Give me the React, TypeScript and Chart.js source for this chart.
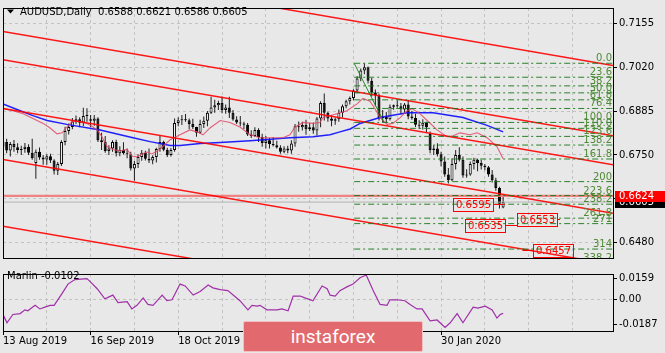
import React, { useEffect, useRef } from 'react';
import { Chart, registerables } from 'chart.js';

Chart.register(...registerables);

const FONT = '"DejaVu Sans", "Liberation Sans", sans-serif';
const BG = '#e8e8e8';
const GRID = '#c2c2c2';

const symbolName = 'AUDUSD';
const timeframe = 'Daily';

// Daily candles, bar index 0 = 13 Aug 2019
const opens = [
  0.6775, 0.6790, 0.6764, 0.6784, 0.6774, 0.6765, 0.6768, 0.6775, 0.6757, 0.6725,
  0.6760, 0.6742, 0.6736, 0.6746, 0.6733, 0.6701, 0.6722, 0.6790, 0.6824, 0.6836,
  0.6853, 0.6860, 0.6849, 0.6870, 0.6860, 0.6855, 0.6862, 0.6795, 0.6790, 0.6762,
  0.6770, 0.6790, 0.6755, 0.6766, 0.6755, 0.6752, 0.6708, 0.6722, 0.6744, 0.6757,
  0.6738, 0.6733, 0.6744, 0.6768, 0.6790, 0.6766, 0.6750, 0.6765, 0.6848, 0.6857,
  0.6860, 0.6857, 0.6845, 0.6836, 0.6818, 0.6845, 0.6855, 0.6880, 0.6896, 0.6903,
  0.6910, 0.6888, 0.6896, 0.6880, 0.6859, 0.6850, 0.6847, 0.6843, 0.6813, 0.6808,
  0.6827, 0.6805, 0.6787, 0.6795, 0.6784, 0.6780, 0.6773, 0.6760, 0.6770, 0.6764,
  0.6785, 0.6838, 0.6835, 0.6842, 0.6829, 0.6835, 0.6825, 0.6862, 0.6910, 0.6880,
  0.6862, 0.6855, 0.6860, 0.6880, 0.6900, 0.6915, 0.6925, 0.6948, 0.6985, 0.7010,
  0.7020, 0.6978, 0.6942, 0.6933, 0.6863, 0.6868, 0.6860, 0.6898, 0.6903, 0.6900,
  0.6890, 0.6905, 0.6868, 0.6864, 0.6843, 0.6840, 0.6849, 0.6815, 0.6765, 0.6770,
  0.6752, 0.6730, 0.6690, 0.6672, 0.6722, 0.6750, 0.6735, 0.6687, 0.6690, 0.6722,
  0.6735, 0.6725, 0.6717, 0.6712, 0.6690, 0.6672, 0.6648, 0.6588,
];
const highs = [
  0.6815, 0.6800, 0.6790, 0.6796, 0.6786, 0.6778, 0.6787, 0.6783, 0.6800, 0.6767,
  0.6773, 0.6750, 0.6752, 0.6754, 0.6737, 0.6728, 0.6795, 0.6837, 0.6847, 0.6864,
  0.6871, 0.6866, 0.6895, 0.6894, 0.6873, 0.6873, 0.6866, 0.6818, 0.6808, 0.6780,
  0.6795, 0.6797, 0.6777, 0.6789, 0.6770, 0.6760, 0.6731, 0.6752, 0.6765, 0.6763,
  0.6770, 0.6749, 0.6772, 0.6809, 0.6794, 0.6772, 0.6771, 0.6862, 0.6866, 0.6873,
  0.6876, 0.6862, 0.6861, 0.6837, 0.6858, 0.6868, 0.6885, 0.6929, 0.6920, 0.6917,
  0.6930, 0.6905, 0.6929, 0.6888, 0.6869, 0.6870, 0.6852, 0.6848, 0.6826, 0.6835,
  0.6832, 0.6815, 0.6808, 0.6802, 0.6805, 0.6794, 0.6780, 0.6777, 0.6778, 0.6795,
  0.6845, 0.6853, 0.6852, 0.6858, 0.6848, 0.6850, 0.6867, 0.6915, 0.6939, 0.6883,
  0.6873, 0.6865, 0.6890, 0.6905, 0.6920, 0.6930, 0.6952, 0.6992, 0.7016, 0.7032,
  0.7022, 0.6987, 0.6951, 0.6938, 0.6888, 0.6882, 0.6905, 0.6905, 0.6918, 0.6910,
  0.6910, 0.6920, 0.6885, 0.6877, 0.6857, 0.6860, 0.6852, 0.6822, 0.6780, 0.6786,
  0.6760, 0.6745, 0.6710, 0.6740, 0.6765, 0.6774, 0.6745, 0.6706, 0.6730, 0.6741,
  0.6738, 0.6735, 0.6722, 0.6716, 0.6704, 0.6680, 0.6652, 0.6621,
];
const lows = [
  0.6745, 0.6755, 0.6745, 0.6760, 0.6755, 0.6750, 0.6757, 0.6750, 0.6735, 0.6677,
  0.6735, 0.6720, 0.6720, 0.6725, 0.6690, 0.6688, 0.6716, 0.6780, 0.6813, 0.6829,
  0.6845, 0.6835, 0.6839, 0.6852, 0.6835, 0.6840, 0.6790, 0.6765, 0.6757, 0.6750,
  0.6760, 0.6745, 0.6746, 0.6751, 0.6740, 0.6702, 0.6671, 0.6710, 0.6732, 0.6733,
  0.6725, 0.6721, 0.6727, 0.6760, 0.6761, 0.6744, 0.6745, 0.6760, 0.6838, 0.6842,
  0.6852, 0.6829, 0.6830, 0.6806, 0.6815, 0.6833, 0.6838, 0.6876, 0.6880, 0.6888,
  0.6878, 0.6877, 0.6864, 0.6855, 0.6845, 0.6838, 0.6830, 0.6808, 0.6802, 0.6805,
  0.6790, 0.6775, 0.6770, 0.6770, 0.6776, 0.6770, 0.6754, 0.6755, 0.6755, 0.6754,
  0.6775, 0.6821, 0.6825, 0.6812, 0.6824, 0.6815, 0.6810, 0.6835, 0.6856, 0.6852,
  0.6838, 0.6843, 0.6852, 0.6865, 0.6894, 0.6905, 0.6918, 0.6940, 0.6977, 0.6998,
  0.6970, 0.6930, 0.6900, 0.6856, 0.6850, 0.6849, 0.6856, 0.6889, 0.6895, 0.6875,
  0.6880, 0.6860, 0.6858, 0.6836, 0.6830, 0.6828, 0.6820, 0.6755, 0.6750, 0.6745,
  0.6715, 0.6683, 0.6662, 0.6670, 0.6705, 0.6730, 0.6680, 0.6680, 0.6686, 0.6705,
  0.6700, 0.6705, 0.6703, 0.6683, 0.6665, 0.6640, 0.6585, 0.6586,
];
const closes = [
  0.6790, 0.6764, 0.6784, 0.6774, 0.6765, 0.6768, 0.6775, 0.6757, 0.6740, 0.6760,
  0.6742, 0.6736, 0.6746, 0.6733, 0.6701, 0.6722, 0.6790, 0.6824, 0.6836, 0.6853,
  0.6860, 0.6849, 0.6870, 0.6871, 0.6855, 0.6862, 0.6795, 0.6790, 0.6762, 0.6770,
  0.6790, 0.6755, 0.6766, 0.6755, 0.6752, 0.6708, 0.6722, 0.6744, 0.6757, 0.6738,
  0.6733, 0.6744, 0.6768, 0.6790, 0.6766, 0.6750, 0.6765, 0.6848, 0.6857, 0.6860,
  0.6857, 0.6845, 0.6836, 0.6818, 0.6845, 0.6855, 0.6880, 0.6896, 0.6903, 0.6910,
  0.6888, 0.6896, 0.6880, 0.6859, 0.6850, 0.6847, 0.6843, 0.6813, 0.6808, 0.6827,
  0.6805, 0.6787, 0.6795, 0.6784, 0.6780, 0.6773, 0.6760, 0.6770, 0.6764, 0.6785,
  0.6838, 0.6835, 0.6842, 0.6829, 0.6835, 0.6825, 0.6862, 0.6910, 0.6880, 0.6862,
  0.6855, 0.6860, 0.6880, 0.6900, 0.6915, 0.6925, 0.6948, 0.6985, 0.7010, 0.7020,
  0.6978, 0.6942, 0.6933, 0.6863, 0.6868, 0.6860, 0.6898, 0.6903, 0.6900, 0.6890,
  0.6905, 0.6868, 0.6864, 0.6843, 0.6840, 0.6849, 0.6835, 0.6765, 0.6770, 0.6752,
  0.6730, 0.6690, 0.6672, 0.6722, 0.6750, 0.6735, 0.6687, 0.6690, 0.6722, 0.6735,
  0.6725, 0.6717, 0.6712, 0.6690, 0.6672, 0.6648, 0.6600, 0.6605,
];

const xLabelIndex = [0, 24, 48, 72, 96, 120];
const xLabelText = ['13 Aug 2019', '16 Sep 2019', '18 Oct 2019', '21 Nov 2019', '26 Dec 2019', '30 Jan 2020'];
const xGridIndex = [0, 12, 24, 36, 48, 60, 72, 84, 96, 108, 120, 132, 144, 156];
const xMax = 167.1;

const priceTicks = [0.7155, 0.702, 0.6885, 0.675, 0.6615, 0.648];
const priceMin = 0.6433;
const priceMax = 0.7202;

// slow moving average (blue)
const blueIdx = [0, 4.7, 8.2, 12.1, 17.5, 26.6, 35.6, 40.3, 45.8, 48.5, 54.0, 59.5, 67.7, 78.6, 84.9, 89.6, 92.3, 95.1, 97.8, 103.3, 110.7, 117.8, 126.0, 132.6, 137.0];
const blueVal = [0.6907, 0.6886, 0.6871, 0.6856, 0.6844, 0.6827, 0.6803, 0.6791, 0.6779, 0.6779, 0.6785, 0.6788, 0.6794, 0.6803, 0.6806, 0.6812, 0.6821, 0.6830, 0.6847, 0.6865, 0.6880, 0.6880, 0.6865, 0.6841, 0.6821];

// fast moving average (pink)
const pinkIdx = [0, 2.7, 5.5, 8.2, 11.0, 12.9, 14.8, 16.2, 17.5, 18.9, 21.1, 23.0, 24.7, 26.0, 27.1, 28.5, 30.1, 32.1, 34.0, 35.3, 36.7, 38.1, 39.5, 40.8, 42.2, 43.8, 45.8, 48.5, 51.2, 53.2, 54.8, 56.7, 59.5, 62.2, 64.9, 67.7, 70.4, 73.2, 76.7, 78.6, 80.0, 82.2, 84.9, 86.8, 87.7, 91.5, 94.2, 97.0, 98.6, 100.5, 101.9, 103.3, 105.2, 106.8, 108.8, 110.7, 112.1, 114.2, 116.2, 118.9, 121.6, 123.3, 125.2, 127.9, 129.9, 132.6, 135.3, 137.0];
const pinkVal = [0.6892, 0.6886, 0.6877, 0.6862, 0.6847, 0.6833, 0.6815, 0.6818, 0.6836, 0.6853, 0.6853, 0.6847, 0.6836, 0.6824, 0.6806, 0.6776, 0.6767, 0.6762, 0.6767, 0.6747, 0.6744, 0.6753, 0.6759, 0.6753, 0.6762, 0.6776, 0.6797, 0.6812, 0.6827, 0.6821, 0.6812, 0.6833, 0.6856, 0.6850, 0.6836, 0.6812, 0.6803, 0.6803, 0.6803, 0.6812, 0.6836, 0.6850, 0.6847, 0.6850, 0.6865, 0.6877, 0.6886, 0.6907, 0.6924, 0.6915, 0.6892, 0.6865, 0.6844, 0.6847, 0.6865, 0.6886, 0.6892, 0.6877, 0.6856, 0.6827, 0.6806, 0.6809, 0.6818, 0.6812, 0.6818, 0.6803, 0.6776, 0.6738];

// parallel channel lines (price at the left and right edges of the panel)
const channelFromIdx = 0;
const channelToIdx = 167.1;
const channelFrom = [0.73479, 0.71299, 0.70426, 0.68932, 0.67364, 0.65308];
const channelTo = [0.70248, 0.68088, 0.67201, 0.65707, 0.64124, 0.62083];

// Fibonacci
const fibFromIdx = 96.2;
const fibLowIdx = 104.4;
const fibHigh = 0.7032;
const fibLow = 0.685;
const fibLevels = [0, 23.6, 38.2, 50, 61.8, 76.4, 100, 110, 123.6, 138.2, 161.8, 200, 223.6, 238.2, 261.8, 271, 314, 338.2];
const fibLabels = ['0.0', '23.6', '38.2', '50.0', '61.8', '76.4', '100.0', '110.0', '123.6', '138.2', '161.8', '200', '223.6', '238.2', '261.8', '271', '314', '338.2'];

const askPrice = 0.6624;
const bidPrice = 0.6605;

// boxed notes
const noteText = ['0.6595', '0.6553', '0.6535', '0.6457'];
const noteIdx = [123.3, 140.8, 126.6, 145.2];
const notePrice = [0.65988, 0.65544, 0.65352, 0.64568];
const noteLinkIdx = [137.4, 152.6, 140.8, 142.3];

// Marlin oscillator
const marlinIdx = [0, 1.1, 2.7, 4.7, 6.0, 6.8, 8.8, 10.1, 11.5, 12.9, 14.0, 16.2, 17.8, 19.7, 23.0, 23.8, 25.8, 27.9, 30.1, 31.5, 34.0, 35.3, 36.7, 38.4, 39.7, 41.1, 43.6, 44.9, 46.3, 48.5, 49.9, 52.1, 54.0, 56.2, 57.5, 59.5, 61.6, 64.9, 67.1, 68.2, 69.6, 70.4, 72.3, 75.1, 76.4, 78.1, 79.5, 81.4, 82.7, 84.9, 87.4, 88.8, 89.6, 91.0, 92.3, 94.2, 95.9, 97.8, 99.5, 101.4, 103.3, 105.2, 106.0, 107.9, 110.1, 111.5, 113.4, 114.8, 117.0, 118.9, 121.1, 122.5, 124.4, 126.0, 128.8, 130.1, 132.1, 134.0, 135.3, 136.2, 137.0];
const marlinVal = [-0.0111, -0.0173, -0.0111, -0.0104, -0.0076, -0.0083, -0.0042, -0.0069, -0.0055, -0.0042, -0.0042, 0.0048, 0.0118, 0.0152, 0.0159, 0.0138, 0.0083, 0.0007, 0.0035, -0.0021, -0.0014, -0.0069, -0.0042, 0.0014, -0.0035, -0.0042, 0.0035, -0.0007, 0.0000, 0.0118, 0.0104, 0.0035, 0.0062, 0.0111, 0.0090, 0.0076, 0.0069, -0.0007, -0.0076, -0.0042, -0.0048, -0.0042, -0.0076, -0.0076, -0.0069, -0.0083, 0.0028, 0.0028, 0.0014, -0.0007, 0.0104, 0.0083, 0.0035, 0.0028, 0.0069, 0.0097, 0.0118, 0.0166, 0.0187, 0.0069, -0.0035, -0.0042, 0.0000, 0.0000, -0.0007, -0.0035, -0.0069, -0.0069, -0.0159, -0.0152, -0.0208, -0.0173, -0.0104, -0.0173, -0.0055, -0.0062, -0.0048, -0.0076, -0.0138, -0.0111, -0.0102];
const marlinTicks = [0.0159, 0, -0.0187];
const marlinTickText = ['0.0159', '0.00', '-0.0187'];
const marlinMin = -0.0235;
const marlinMax = 0.0194;

const fibPrice = (lv: number) => fibHigh - (lv / 100) * (fibHigh - fibLow);

const lineDs = (data: any[], color: string, width: number, order: number, dash: number[] = []) => ({
  type: 'line',
  data,
  borderColor: color,
  backgroundColor: color,
  borderWidth: width,
  borderDash: dash,
  pointRadius: 0,
  pointHoverRadius: 0,
  fill: false,
  tension: 0,
  order,
  clip: 0,
});

const bgPlugin = {
  id: 'bg',
  beforeDraw(chart: any) {
    const c = chart.ctx;
    c.save();
    c.fillStyle = BG;
    c.fillRect(0, 0, chart.width, chart.height);
    c.restore();
  },
};

const framePlugin = {
  id: 'frame',
  afterDraw(chart: any) {
    const { left, top, right, bottom } = chart.chartArea;
    const c = chart.ctx;
    c.save();
    c.strokeStyle = '#000';
    c.lineWidth = 1;
    c.strokeRect(left + 0.5, top + 0.5, right - left, bottom - top);
    c.restore();
  },
};

const mainDecor = {
  id: 'mainDecor',
  afterDatasetsDraw(chart: any) {
    const c = chart.ctx;
    const xs = chart.scales.x;
    const ys = chart.scales.y;
    const { left, top, right, bottom } = chart.chartArea;
    c.save();
    c.beginPath();
    c.rect(left, top, right - left, bottom - top);
    c.clip();
    c.font = '10px ' + FONT;
    c.fillStyle = '#4e8a34';
    c.textAlign = 'right';
    c.textBaseline = 'alphabetic';
    fibLevels.forEach((lv, k) => {
      const y = ys.getPixelForValue(fibPrice(lv));
      c.fillText(fibLabels[k], right - 1, y - 2);
    });
    c.textAlign = 'left';
    c.textBaseline = 'middle';
    noteText.forEach((t, k) => {
      const x = Math.round(xs.getPixelForValue(noteIdx[k]));
      const yc = Math.round(ys.getPixelForValue(notePrice[k]));
      const w = Math.round(c.measureText(t).width) + 5;
      const h = 13;
      c.strokeStyle = '#ff0000';
      c.lineWidth = 1;
      c.strokeRect(x + 0.5, yc - 6 + 0.5, w, h);
      c.fillStyle = '#ff0000';
      c.fillText(t, x + 3, yc + 1);
      const lx = xs.getPixelForValue(noteLinkIdx[k]);
      c.beginPath();
      if (lx > x + w) {
        c.moveTo(x + w + 0.5, yc + 0.5);
        c.lineTo(lx, yc + 0.5);
      } else {
        c.moveTo(lx, yc + 0.5);
        c.lineTo(x + 0.5, yc + 0.5);
      }
      c.stroke();
    });
    c.restore();
  },
  afterDraw(chart: any) {
    const c = chart.ctx;
    const ys = chart.scales.y;
    const { right } = chart.chartArea;
    c.save();
    c.font = '10px ' + FONT;
    c.fillStyle = '#000';
    c.beginPath();
    c.moveTo(7, 9.5);
    c.lineTo(14, 9.5);
    c.lineTo(10.5, 13.5);
    c.closePath();
    c.fill();
    const n = opens.length - 1;
    const hdr = `${symbolName},${timeframe}  ${opens[n].toFixed(4)} ${highs[n].toFixed(4)} ${lows[n].toFixed(4)} ${closes[n].toFixed(4)}`;
    c.textBaseline = 'middle';
    c.textAlign = 'left';
    c.fillText(hdr, 20, 12);
    const drawBox = (p: number, bg: string) => {
      const y = Math.round(ys.getPixelForValue(p));
      c.fillStyle = bg;
      c.fillRect(right + 2, y - 5, 665 - right - 2, 11);
      c.fillStyle = '#fff';
      c.fillText(p.toFixed(4), right + 6, y + 0.5);
    };
    drawBox(bidPrice, '#000');
    drawBox(askPrice, '#ff0000');
    c.restore();
  },
};

const marlinDecor = {
  id: 'marlinDecor',
  afterDraw(chart: any) {
    const c = chart.ctx;
    c.save();
    c.font = '10px ' + FONT;
    c.fillStyle = '#000';
    c.textBaseline = 'middle';
    c.textAlign = 'left';
    c.fillText('Marlin ' + marlinVal[marlinVal.length - 1].toFixed(4), 7, 10);
    c.restore();
  },
};

export default function App() {
  const mainRef = useRef<HTMLCanvasElement | null>(null);
  const subRef = useRef<HTMLCanvasElement | null>(null);

  useEffect(() => {
    const idx = opens.map((_, i) => i);
    const font = { family: FONT, size: 10 };

    const datasets: any[] = [
      {
        type: 'bar',
        data: idx.map((i) => ({ x: i, y: [lows[i], highs[i]] })),
        backgroundColor: '#1e1e1e',
        borderWidth: 0,
        barThickness: 1,
        grouped: false,
        inflateAmount: 0,
        order: 30,
      },
      {
        type: 'bar',
        data: idx.map((i) => ({ x: i, y: [opens[i], closes[i]] })),
        backgroundColor: idx.map((i) => (closes[i] >= opens[i] ? '#ffffff' : '#000000')),
        borderColor: '#000',
        borderWidth: 1,
        borderSkipped: false,
        barThickness: 3,
        minBarLength: 1,
        grouped: false,
        inflateAmount: 0,
        order: 29,
      },
      lineDs(blueIdx.map((x, k) => ({ x, y: blueVal[k] })), 'rgba(10,10,255,0.9)', 1.5, 20),
      lineDs(pinkIdx.map((x, k) => ({ x, y: pinkVal[k] })), 'rgba(225,70,100,0.85)', 1.1, 19),
      lineDs([{ x: -2, y: askPrice }, { x: xMax + 2, y: askPrice }], 'rgba(240,120,120,0.9)', 2.4, 15),
      lineDs([{ x: -2, y: bidPrice }, { x: xMax + 2, y: bidPrice }], '#b4b4b4', 1, 15),
      ...channelFrom.map((p, k) =>
        lineDs([{ x: channelFromIdx, y: p }, { x: channelToIdx, y: channelTo[k] }], 'rgba(255,0,0,0.9)', 1.5, 10)
      ),
      ...fibLevels.map((lv) =>
        lineDs([{ x: fibFromIdx, y: fibPrice(lv) }, { x: xMax + 2, y: fibPrice(lv) }], 'rgba(20,120,20,0.9)', 1, 8, [6, 3, 2, 3])
      ),
      lineDs([{ x: fibFromIdx, y: fibHigh }, { x: fibLowIdx, y: fibLow }], 'rgba(20,130,20,0.9)', 1, 7),
    ];

    const main = new Chart(mainRef.current as HTMLCanvasElement, {
      type: 'bar',
      data: { datasets },
      options: {
        responsive: false,
        animation: false,
        devicePixelRatio: 1,
        events: [],
        layout: { padding: { left: 3, top: 3, right: 0, bottom: 3 } },
        plugins: { legend: { display: false }, tooltip: { enabled: false } },
        scales: {
          x: {
            type: 'linear',
            min: 0,
            max: xMax,
            offset: false,
            afterBuildTicks: (s: any) => {
              s.ticks = xGridIndex.map((v) => ({ value: v }));
            },
            afterFit: (s: any) => {
              s.height = 0;
            },
            ticks: { display: false },
            grid: { color: GRID, drawTicks: false, offset: false, lineWidth: 1 },
            border: { display: false, dash: [3, 3] },
          },
          y: {
            type: 'linear',
            position: 'right',
            min: priceMin,
            max: priceMax,
            afterBuildTicks: (s: any) => {
              s.ticks = priceTicks.map((v) => ({ value: v }));
            },
            afterFit: (s: any) => {
              s.width = 52;
            },
            ticks: {
              font,
              color: '#000',
              padding: 2,
              callback: (v: any) => Number(v).toFixed(4),
            },
            grid: { color: GRID, lineWidth: 1, drawTicks: true, tickLength: 4, tickColor: '#000', tickBorderDash: [] },
            border: { display: false, dash: [3, 3] },
          },
        },
      } as any,
      plugins: [bgPlugin, mainDecor, framePlugin],
    });

    const sub = new Chart(subRef.current as HTMLCanvasElement, {
      type: 'line',
      data: {
        datasets: [lineDs(marlinIdx.map((x, k) => ({ x, y: marlinVal[k] })), '#a030a8', 1.2, 1) as any],
      },
      options: {
        responsive: false,
        animation: false,
        devicePixelRatio: 1,
        events: [],
        layout: { padding: { left: 3, top: 3, right: 0, bottom: 0 } },
        plugins: { legend: { display: false }, tooltip: { enabled: false } },
        scales: {
          x: {
            type: 'linear',
            min: 0,
            max: xMax,
            offset: false,
            afterBuildTicks: (s: any) => {
              s.ticks = xGridIndex.map((v) => ({ value: v }));
            },
            afterFit: (s: any) => {
              s.height = 22;
            },
            ticks: {
              font,
              color: '#000',
              padding: 0,
              autoSkip: false,
              maxRotation: 0,
              minRotation: 0,
              align: 'start',
              callback: (v: any) => {
                const k = xLabelIndex.indexOf(Number(v));
                return k >= 0 ? xLabelText[k] : '';
              },
            },
            grid: {
              color: GRID,
              drawTicks: true,
              tickLength: 4,
              tickColor: (ctx: any) => (ctx.tick && xLabelIndex.includes(ctx.tick.value) ? '#000' : 'rgba(0,0,0,0)'),
              tickBorderDash: [],
              offset: false,
            },
            border: { display: false, dash: [3, 3] },
          },
          y: {
            type: 'linear',
            position: 'right',
            min: marlinMin,
            max: marlinMax,
            afterBuildTicks: (s: any) => {
              s.ticks = marlinTicks.map((v) => ({ value: v }));
            },
            afterFit: (s: any) => {
              s.width = 52;
            },
            ticks: {
              font,
              color: '#000',
              padding: 2,
              callback: (v: any) => {
                const k = marlinTicks.indexOf(Number(v));
                return k >= 0 ? marlinTickText[k] : '';
              },
            },
            grid: {
              color: (ctx: any) => (ctx.tick && ctx.tick.value === 0 ? GRID : 'rgba(0,0,0,0)'),
              drawTicks: true,
              tickLength: 4,
              tickColor: '#000',
              tickBorderDash: [],
            },
            border: { display: false, dash: [3, 3] },
          },
        },
      } as any,
      plugins: [bgPlugin, marlinDecor, framePlugin],
    });

    return () => {
      main.destroy();
      sub.destroy();
    };
  }, []);

  return (
    <div style={{ position: 'fixed', left: 0, top: 0, width: 665, height: 353, background: BG, overflow: 'hidden' }}>
      <canvas ref={mainRef} width={665} height={266} style={{ position: 'absolute', left: 0, top: 0, width: 665, height: 266 }} />
      <canvas ref={subRef} width={665} height={87} style={{ position: 'absolute', left: 0, top: 266, width: 665, height: 87 }} />
      <div
        style={{
          position: 'absolute',
          left: 243,
          top: 321,
          width: 178,
          height: 29,
          background: '#e26a6e',
          border: '1px solid #f2c0c0',
          borderRadius: 2,
          color: '#fff',
          fontFamily: 'Roboto, sans-serif',
          fontSize: 19,
          lineHeight: '29px',
          textAlign: 'center',
          whiteSpace: 'nowrap',
        }}
      >
        instaforex
      </div>
    </div>
  );
}
